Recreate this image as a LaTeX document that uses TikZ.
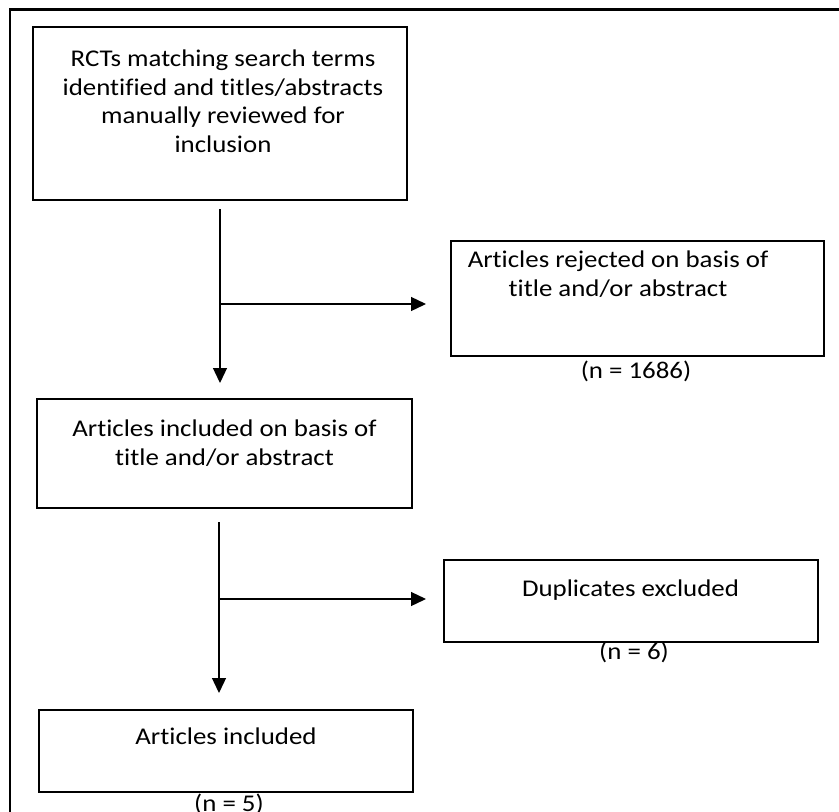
\documentclass[tikz,border=0pt]{standalone}
\usepackage{fontspec}
\setmainfont[FakeStretch=1.12,Ligatures=NoCommon]{Carlito}
\usetikzlibrary{arrows.meta}
\begin{document}
\begin{tikzpicture}[x=1pt,y=-1pt,
  box/.style={draw,line width=1.3pt,rectangle,inner sep=0pt},
  txt/.style={anchor=base,align=center,inner sep=0pt,
    font=\fontsize{24}{28.5}\selectfont},
  flow/.style={line width=1.3pt,-{Triangle[length=15pt,width=14pt]}}]
\useasboundingbox (0,0) rectangle (839,812);
% page frame, only its top and left edges fall on the page
\draw[line width=2.6pt] (10,830) -- (10,9.5) -- (860,9.5);

% boxes
\node[box,minimum width=374pt,minimum height=173pt] (search) at (220,113.5) {};
\node[box,minimum width=373pt,minimum height=115pt] (rejected) at (637.5,298.5) {};
\node[box,minimum width=375pt,minimum height=109pt] (screened) at (224.5,453.5) {};
\node[box,minimum width=374pt,minimum height=82pt] (dups) at (631,601) {};
\node[box,minimum width=374pt,minimum height=82pt] (final) at (226,751) {};

% box texts (a multi-line node sits on the baseline of its last line)
\node[txt] (searchtxt) at (223,152) {RCTs matching search terms\\identified and titles/abstracts\\manually reviewed for\\inclusion};
\node[txt] (rejtxt) at (618,296) {Articles rejected on basis of\\title and/or abstract};
\node[txt] (rejn) at (636,378) {(n = 1686)};
\node[txt] (scrtxt) at (224.5,465) {Articles included on basis of\\title and/or abstract};
\node[txt] (duptxt) at (630.5,596) {Duplicates excluded};
\node[txt] (dupn) at (634,659) {(n = 6)};
\node[txt] (fintxt) at (226,744) {Articles included};
\node[txt] (finn) at (229,811) {(n = 5)};

% connectors
\coordinate (s1) at (220,209);
\coordinate (t1) at (220,383);
\coordinate (j1) at (220,304);
\coordinate (r1) at (426,304);
\coordinate (s2) at (219,522);
\coordinate (t2) at (219,693);
\coordinate (j2) at (219,599);
\coordinate (r2) at (426,599);
\draw[flow] (s1) -- (t1);
\draw[flow] (j1) -- (r1);
\draw[flow] (s2) -- (t2);
\draw[flow] (j2) -- (r2);
\end{tikzpicture}
\end{document}
